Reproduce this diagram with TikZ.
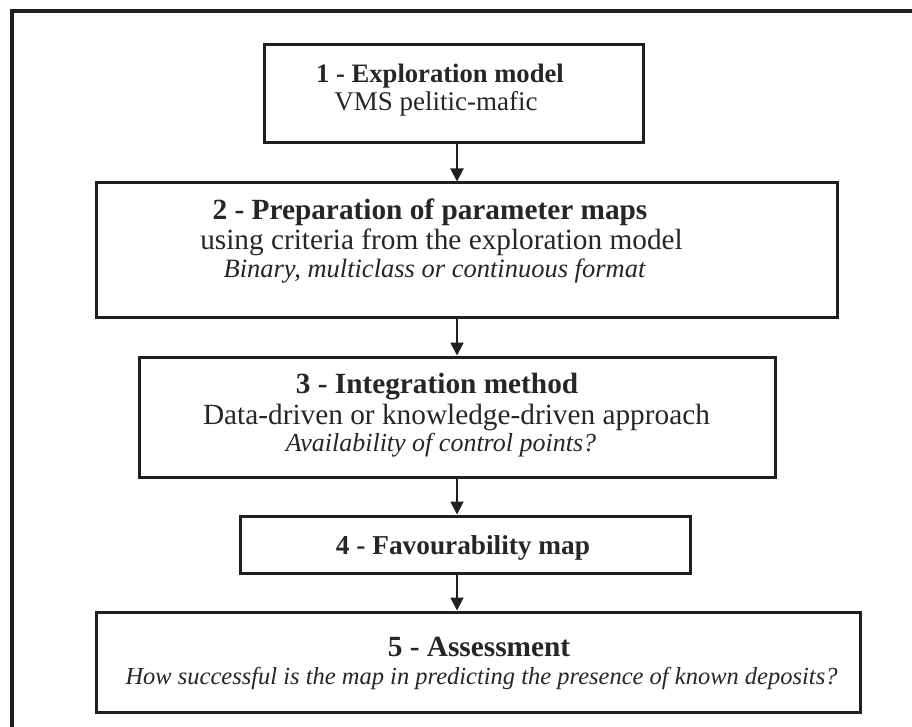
\documentclass[tikz,border=0pt]{standalone}
\usepackage{fontspec}
\setmainfont{Liberation Serif}
\usetikzlibrary{arrows.meta}
\begin{document}
\begin{tikzpicture}[x=1pt,y=-1pt,
  box/.style={draw=black!88, line width=3pt, inner sep=0pt, fill=white},
  txt/.style={anchor=base, inner sep=0pt, text=black!85, font=\fontsize{#1}{#1}\selectfont},
  txt/.default=29.3,
  arr/.style={draw=black!88, line width=2pt, -{Triangle[length=13pt,width=13pt]}},
  frame/.style={draw=black!88, line width=4pt}]
\useasboundingbox (0,0) rectangle (912,727);
\draw[frame] (12,727) -- (12,11) -- (912,11);
% boxes
\node[box, minimum width=379pt, minimum height=98pt]  (b1) at (453.5,94)  {};
\node[box, minimum width=741pt, minimum height=134pt] (b2) at (466.5,250) {};
\node[box, minimum width=636pt, minimum height=120pt] (b3) at (457,417)   {};
\node[box, minimum width=450pt, minimum height=57pt]  (b4) at (465,544.5) {};
\node[box, minimum width=764pt, minimum height=100pt] (b5) at (478,662)   {};
% texts
\node[txt=26.6] (t1a) at (440,83) {\bfseries 1 - Exploration model};
\node[txt=27] (t1b) at (436,111) {VMS pelitic-mafic};
\node[txt] (t2a) at (430,220) {\bfseries 2 - Preparation of parameter maps};
\node[txt] (t2b) at (441.5,250) {using criteria from the exploration model};
\node[txt=26.5] (t2c) at (434.5,277) {\itshape Binary, multiclass or continuous format};
\node[txt] (t3a) at (437,393) {\bfseries 3 - Integration method};
\node[txt] (t3b) at (456.5,424) {Data-driven or knowledge-driven approach};
\node[txt=26] (t3c) at (441,451) {\itshape Availability of control points?};
\node[txt=27.3] (t4a) at (463,554) {\bfseries 4 - Favourability map};
\node[txt] (t5a) at (479,656) {\bfseries 5 - Assessment};
\node[txt=24.5] (t5b) at (481.5,684) {\itshape How successful is the map in predicting the presence of known deposits?};
% arrows
\coordinate (ax) at (457,0);
\draw[arr] (b1.south -| ax) -- (b2.north -| ax);
\draw[arr] (b2.south -| ax) -- (b3.north -| ax);
\draw[arr] (b3.south -| ax) -- (b4.north -| ax);
\draw[arr] (b4.south -| ax) -- (b5.north -| ax);
\end{tikzpicture}
\end{document}
